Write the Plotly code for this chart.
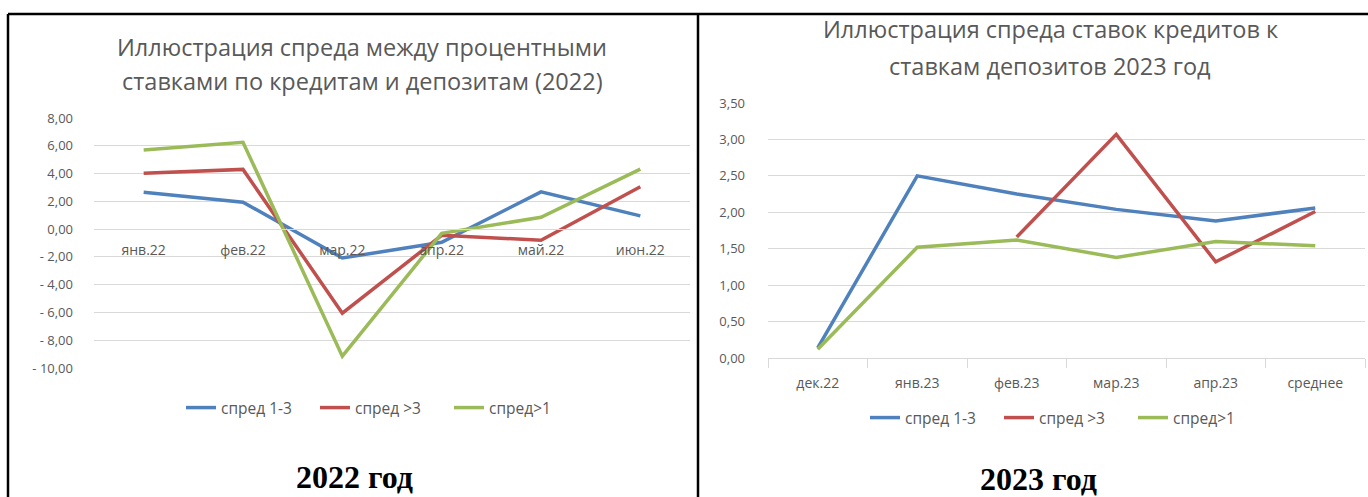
import plotly.graph_objects as go

W, H = 1368, 497

months_22 = ["янв.22", "фев.22", "мар.22", "апр.22", "май.22", "июн.22"]
spread_13_22 = [2.66, 1.94, -2.08, -0.95, 2.68, 0.95]
spread_3_22 = [4.03, 4.30, -6.05, -0.45, -0.80, 3.05]
spread_1_22 = [5.70, 6.25, -9.15, -0.30, 0.85, 4.32]
yticks_22 = [8, 6, 4, 2, 0, -2, -4, -6, -8, -10]
ylabels_22 = ["8,00", "6,00", "4,00", "2,00", "0,00", "- 2,00", "- 4,00", "- 6,00", "- 8,00", "- 10,00"]

months_23 = ["дек.22", "янв.23", "фев.23", "мар.23", "апр.23", "среднее"]
spread_13_23 = [0.14, 2.50, 2.25, 2.04, 1.88, 2.06]
spread_3_23 = [None, None, 1.66, 3.07, 1.32, 2.01]
spread_1_23 = [0.12, 1.52, 1.62, 1.38, 1.60, 1.54]
yticks_23 = [0, 0.5, 1, 1.5, 2, 2.5, 3, 3.5]
ylabels_23 = ["0,00", "0,50", "1,00", "1,50", "2,00", "2,50", "3,00", "3,50"]

names = ["спред 1-3", "спред >3", "спред>1"]
colors = ["#4F81BD", "#C0504D", "#9BBB59"]

GREY = "#595959"
GRID = "#D9D9D9"
FONT = "Open Sans"


def px(x):
    return x / W


def py(y):
    return 1 - y / H


dom_x1 = [px(94), px(690)]
dom_y1 = [py(368), py(118)]
dom_x2 = [px(768), px(1365)]
dom_y2 = [py(358), py(103)]

# left x axis crosses at zero, like in Excel
zero_pos = dom_y1[0] + (0 - (-10)) / 18 * (dom_y1[1] - dom_y1[0])

fig = go.Figure()

for name, vals, col in zip(names, [spread_13_22, spread_3_22, spread_1_22], colors):
    fig.add_trace(go.Scatter(
        x=months_22, y=vals, name=name, mode="lines",
        line=dict(color=col, width=3.5),
        xaxis="x", yaxis="y", legend="legend",
    ))

for name, vals, col in zip(names, [spread_13_23, spread_3_23, spread_1_23], colors):
    fig.add_trace(go.Scatter(
        x=months_23, y=vals, name=name, mode="lines",
        line=dict(color=col, width=3.5),
        xaxis="x2", yaxis="y2", legend="legend2",
    ))

catfont = dict(family=FONT, size=14, color=GREY)
yfont = dict(family=FONT, size=13, color=GREY)
legfont = dict(family=FONT, size=15.5, color=GREY)

fig.update_layout(
    width=W, height=H, autosize=False,
    margin=dict(l=0, r=0, t=0, b=0, autoexpand=False),
    paper_bgcolor="white", plot_bgcolor="white",
    font=dict(family=FONT, color=GREY),
    xaxis=dict(domain=dom_x1, anchor="free", position=zero_pos,
               type="category", range=[-0.5, 5.5], automargin=False,
               showgrid=False, showline=True, linecolor=GRID, linewidth=1,
               ticks="", tickfont=catfont, ticklabelstandoff=8, zeroline=False),
    yaxis=dict(domain=dom_y1, anchor="x", range=[-10, 8], automargin=False,
               tickvals=yticks_22, ticktext=ylabels_22,
               showgrid=True, gridcolor=GRID, gridwidth=1,
               showline=False, zeroline=False, ticks="",
               tickfont=yfont, ticklabelstandoff=20),
    xaxis2=dict(domain=dom_x2, anchor="y2", type="category", range=[-0.5, 5.5],
                automargin=False,
                showgrid=False, showline=True, linecolor=GRID, linewidth=1,
                ticks="outside", tickson="boundaries", ticklen=9,
                tickcolor=GRID, tickfont=catfont, ticklabelstandoff=12,
                zeroline=False),
    yaxis2=dict(domain=dom_y2, anchor="x2", range=[0, 3.5], automargin=False,
                tickvals=yticks_23, ticktext=ylabels_23,
                showgrid=True, gridcolor=GRID, gridwidth=1,
                showline=False, zeroline=False, ticks="",
                tickfont=yfont, ticklabelstandoff=22),
    legend=dict(orientation="h", x=px(382), xanchor="center", y=py(408), yanchor="middle",
                font=legfont, bgcolor="rgba(0,0,0,0)", entrywidth=89),
    legend2=dict(orientation="h", x=px(1066), xanchor="center", y=py(418), yanchor="middle",
                 font=legfont, bgcolor="rgba(0,0,0,0)", entrywidth=89),
    showlegend=True,
)

titles = [
    ("Иллюстрация спреда между процентными", 362, 47),
    ("ставками по кредитам и депозитам (2022)", 362, 81),
    ("Иллюстрация спреда ставок кредитов к", 1050, 29),
    ("ставкам депозитов 2023 год", 1050, 66),
]
for text, x, y in titles:
    fig.add_annotation(text=text, x=px(x), y=py(y), xref="paper", yref="paper",
                       xanchor="center", yanchor="middle", showarrow=False,
                       font=dict(family=FONT, size=23.5, color=GREY))

cap_font = dict(family="Liberation Serif", size=32, color="black", weight="bold")
for text, x, y in [("2022 год", 354, 477), ("2023 год", 1038, 479)]:
    fig.add_annotation(text=text, x=px(x), y=py(y), xref="paper", yref="paper",
                       xanchor="center", yanchor="middle", showarrow=False,
                       font=cap_font)

# table borders
border = dict(color="black", width=2.5)
fig.add_shape(type="line", xref="paper", yref="paper", x0=px(8), x1=1, y0=py(14), y1=py(14), line=border)
fig.add_shape(type="line", xref="paper", yref="paper", x0=px(8), x1=px(8), y0=py(14), y1=0, line=border)
fig.add_shape(type="line", xref="paper", yref="paper", x0=px(698), x1=px(698), y0=py(14), y1=0, line=border)

fig.write_html("out.html", config={"displayModeBar": False},
               post_script="document.body.style.margin='0';")
